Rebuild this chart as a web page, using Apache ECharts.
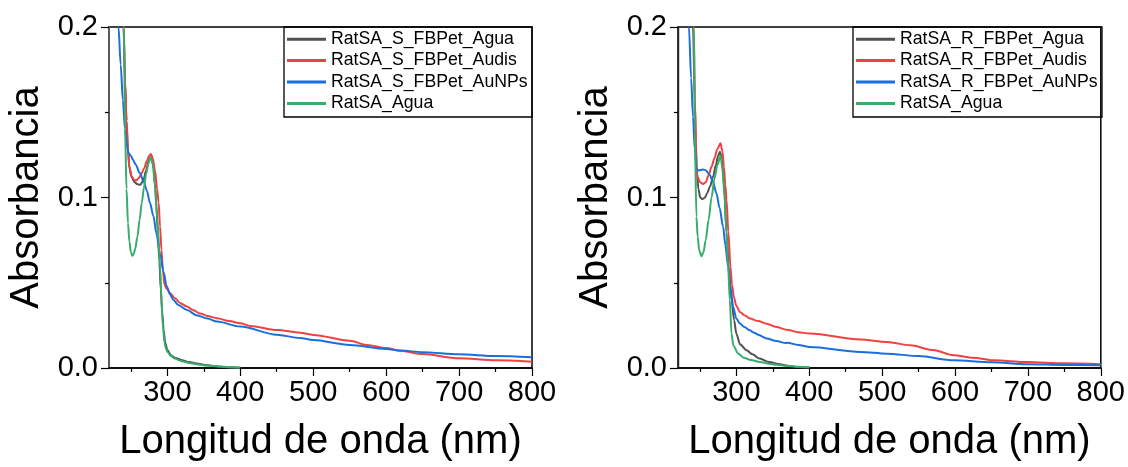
<!DOCTYPE html>
<html>
<head>
<meta charset="utf-8">
<script src="https://cdn.jsdelivr.net/npm/echarts@6/dist/echarts.min.js"></script>
<style>html,body{margin:0;padding:0;background:#fff}#c{width:1128px;height:467px}</style>
</head>
<body>
<div id="c"></div>
<script>
// ---------- DATA ----------
var xTickLabels = [300, 400, 500, 600, 700, 800];
var xMinorTicks = [250, 350, 450, 550, 650, 750];
var seriesNamesS = ['RatSA_S_FBPet_Agua', 'RatSA_S_FBPet_Audis', 'RatSA_S_FBPet_AuNPs', 'RatSA_Agua'];
var seriesNamesR = ['RatSA_R_FBPet_Agua', 'RatSA_R_FBPet_Audis', 'RatSA_R_FBPet_AuNPs', 'RatSA_Agua'];

// Left panel (S)
var S_Agua_nm  = [220, 236, 240, 242, 244, 246, 248, 251, 255, 259, 263, 267, 271, 274, 277, 279, 281, 283, 285, 287, 289, 291, 293, 295, 297, 300, 305, 310, 320, 330, 340, 355, 370, 385, 400];
var S_Agua_abs = [1.0, 0.26, 0.2, 0.168, 0.145, 0.128, 0.117, 0.112, 0.109, 0.1077, 0.1075, 0.110, 0.116, 0.121, 0.1238, 0.122, 0.117, 0.108, 0.095, 0.080, 0.063, 0.046, 0.032, 0.022, 0.015, 0.0105, 0.0075, 0.006, 0.0046, 0.0035, 0.0026, 0.0016, 0.0009, 0.0004, 0.0002];

var S_Audis_nm  = [220, 236, 240, 242, 244, 246, 248, 251, 254, 257, 260, 264, 268, 272, 275, 277.5, 280, 283, 286, 288, 290, 292, 294, 296, 299, 304, 310, 318, 327, 335, 345, 355, 368, 385, 400, 414, 450, 482, 500, 550, 574, 600, 620, 650, 700, 750, 800];
var S_Audis_abs = [1.0, 0.27, 0.2, 0.168, 0.145, 0.128, 0.118, 0.1125, 0.1105, 0.110, 0.111, 0.1135, 0.117, 0.1215, 0.1245, 0.1255, 0.123, 0.116, 0.105, 0.097, 0.083, 0.069, 0.057, 0.049, 0.0465, 0.0439, 0.041, 0.038, 0.036, 0.034, 0.032, 0.0305, 0.0292, 0.0275, 0.0262, 0.0247, 0.0223, 0.0207, 0.0194, 0.016, 0.0135, 0.0117, 0.0101, 0.0082, 0.0057, 0.0045, 0.0037];

var S_AuNPs_nm  = [220, 230, 233, 236, 239, 242, 245, 247, 250, 253, 257, 262, 267, 272, 276, 281, 285, 290, 295, 299, 304, 308, 315, 327, 340, 355, 368, 400, 450, 482, 500, 550, 600, 620, 650, 700, 750, 800];
var S_AuNPs_abs = [1.0, 0.26, 0.2, 0.178, 0.157, 0.14, 0.129, 0.126, 0.1245, 0.122, 0.119, 0.1145, 0.110, 0.104, 0.097, 0.089, 0.079, 0.067, 0.056, 0.048, 0.043, 0.040, 0.037, 0.034, 0.031, 0.029, 0.0272, 0.0243, 0.0195, 0.0176, 0.0164, 0.0135, 0.0112, 0.0102, 0.0093, 0.008, 0.007, 0.0063];

var S_RatAgua_nm  = [220, 238, 240.5, 242, 244, 246, 248, 250, 252, 254, 256, 259, 262, 265, 268, 271, 274, 277, 280, 283, 286, 288, 290, 292, 294, 296, 298, 300, 305, 310, 320, 330, 340, 355, 370, 385, 400];
var S_RatAgua_abs = [1.0, 0.3, 0.2, 0.14, 0.105, 0.085, 0.074, 0.068, 0.0658, 0.067, 0.070, 0.077, 0.087, 0.097, 0.106, 0.114, 0.120, 0.1238, 0.120, 0.107, 0.088, 0.074, 0.0595, 0.040, 0.024, 0.015, 0.0115, 0.0095, 0.007, 0.0055, 0.004, 0.003, 0.0022, 0.0014, 0.0009, 0.0005, 0.0003];

// Right panel (R)
var R_Agua_nm  = [220, 237, 240.6, 243, 244.5, 246, 248, 250.5, 253.5, 257, 260, 264, 268, 272, 275, 277.5, 280, 283, 286.6, 290, 293.4, 297, 300, 305, 314, 322, 332, 345, 360, 370, 385, 400];
var R_Agua_abs = [1.0, 0.28, 0.2, 0.157, 0.132, 0.114, 0.105, 0.100, 0.099, 0.100, 0.1025, 0.1065, 0.112, 0.119, 0.1245, 0.1268, 0.123, 0.108, 0.079, 0.057, 0.040, 0.028, 0.0202, 0.014, 0.0104, 0.008, 0.0055, 0.0035, 0.0022, 0.0013, 0.0006, 0.0003];

var R_Audis_nm  = [220, 237, 241.5, 243, 245.3, 247, 250, 254.4, 258, 262, 266, 270, 274, 278.3, 281, 283, 285, 286.6, 289, 292, 294, 296.6, 300, 304.9, 311, 318.6, 330, 341.6, 355, 369, 385, 401, 470, 506.6, 538.7, 570, 598, 625, 653, 699, 750, 800];
var R_Audis_abs = [1.0, 0.28, 0.2, 0.16, 0.118, 0.112, 0.109, 0.1079, 0.109, 0.113, 0.118, 0.123, 0.1285, 0.1318, 0.127, 0.118, 0.107, 0.0985, 0.080, 0.0593, 0.049, 0.0417, 0.0365, 0.0329, 0.031, 0.029, 0.0275, 0.026, 0.024, 0.0225, 0.021, 0.0202, 0.0167, 0.0153, 0.0133, 0.0105, 0.0075, 0.006, 0.0045, 0.0035, 0.0028, 0.0022];

var R_AuNPs_nm  = [220, 232, 235, 238, 240.6, 243, 245.3, 248, 251, 254.4, 258, 263.6, 268, 272.8, 277, 281.9, 285, 288.8, 292, 295.7, 300, 304.9, 311, 318.6, 323, 325.5, 330, 341.6, 355, 368, 370, 385, 401, 470, 506.6, 550, 598, 650, 699, 750, 800];
var R_AuNPs_abs = [1.0, 0.25, 0.2, 0.17, 0.1474, 0.128, 0.117, 0.1158, 0.1162, 0.1164, 0.116, 0.1132, 0.109, 0.1024, 0.094, 0.0828, 0.072, 0.0593, 0.047, 0.0358, 0.029, 0.0261, 0.024, 0.0221, 0.021, 0.0205, 0.0195, 0.0173, 0.0158, 0.0146, 0.0148, 0.0135, 0.0123, 0.0094, 0.0084, 0.007, 0.0045, 0.0033, 0.0022, 0.0018, 0.0016];

var R_RatAgua_nm  = [220, 238, 242, 243, 245.3, 247, 249, 252.2, 255, 258, 262, 266, 270, 274, 278.3, 281, 284, 286.5, 288.8, 291, 293.4, 296, 302.5, 310, 320, 332.4, 345, 355, 369, 385, 400.7];
var R_RatAgua_abs = [1.0, 0.3, 0.2, 0.138, 0.0887, 0.077, 0.0691, 0.0656, 0.068, 0.075, 0.087, 0.100, 0.111, 0.119, 0.1245, 0.117, 0.100, 0.080, 0.0593, 0.040, 0.0202, 0.013, 0.0085, 0.006, 0.0047, 0.0035, 0.0025, 0.0019, 0.0013, 0.0007, 0.0004];

var colors = ['#515151', '#F14040', '#1A6FDF', '#37AD6B'];

// ---------- BUILD ----------
function zip(a, b) { return a.map(function (v, i) { return [v, b[i]]; }); }
var FONT = 'Liberation Sans, Arial, sans-serif';

var leftData = [zip(S_Agua_nm, S_Agua_abs), zip(S_Audis_nm, S_Audis_abs), zip(S_AuNPs_nm, S_AuNPs_abs), zip(S_RatAgua_nm, S_RatAgua_abs)];
var rightData = [zip(R_Agua_nm, R_Agua_abs), zip(R_Audis_nm, R_Audis_abs), zip(R_AuNPs_nm, R_AuNPs_abs), zip(R_RatAgua_nm, R_RatAgua_abs)];

var grids = [
  { left: 109, top: 27, width: 423, height: 341, show: true, borderColor: '#000', borderWidth: 1.5, backgroundColor: 'transparent' },
  { left: 678, top: 27, width: 424, height: 341, show: true, borderColor: '#000', borderWidth: 1.5, backgroundColor: 'transparent' }
];

function mainX(gi) {
  return {
    type: 'value', gridIndex: gi, min: 220, max: 800,
    name: 'Longitud de onda (nm)', nameLocation: 'middle', nameGap: 54,
    nameTextStyle: { fontSize: 40, fontFamily: FONT, color: '#000' },
    axisLine: { show: true, onZero: false, lineStyle: { color: '#000', width: 1.5 } },
    axisTick: { show: true, length: 8, customValues: xTickLabels, lineStyle: { color: '#000', width: 1.2 } },
    axisLabel: { show: true, customValues: xTickLabels, fontSize: 29, fontFamily: FONT, color: '#000', margin: 10 },
    splitLine: { show: false }
  };
}
function minorX(gi) {
  return {
    type: 'value', gridIndex: gi, min: 220, max: 800, position: 'bottom',
    axisLine: { show: false, onZero: false },
    axisTick: { show: true, length: 4, customValues: xMinorTicks, lineStyle: { color: '#000', width: 1.2 } },
    axisLabel: { show: false },
    splitLine: { show: false }
  };
}
function mainY(gi, lineColor, lineWidth) {
  return {
    type: 'value', gridIndex: gi, min: 0, max: 0.2, interval: 0.1,
    name: 'Absorbancia', nameLocation: 'middle', nameGap: 62,
    nameTextStyle: { fontSize: 40, fontFamily: FONT, color: '#000' },
    axisLine: { show: true, onZero: false, lineStyle: { color: lineColor, width: lineWidth } },
    axisTick: { show: true, length: 8, lineStyle: { color: '#000', width: 1.2 } },
    minorTick: { show: true, splitNumber: 2, length: 4, lineStyle: { color: '#000', width: 1.2 } },
    axisLabel: { fontSize: 29, fontFamily: FONT, color: '#000', margin: 11, formatter: function (v) { return v.toFixed(1); } },
    splitLine: { show: false }, minorSplitLine: { show: false }
  };
}

var series = [];
function addSeries(names, datas, xi, yi) {
  names.forEach(function (n, i) {
    series.push({
      name: n, type: 'line', xAxisIndex: xi, yAxisIndex: yi, data: datas[i],
      symbol: 'none', smooth: 0.3, smoothMonotone: 'x', clip: true,
      lineStyle: { color: colors[i], width: 2 }, itemStyle: { color: colors[i] },
      animation: false
    });
  });
}
addSeries(seriesNamesS, leftData, 0, 0);
addSeries(seriesNamesR, rightData, 2, 1);

function legend(left, names) {
  return {
    orient: 'vertical', left: left, top: 28.5, padding: 0, itemGap: 0,
    itemWidth: 39, itemHeight: 3, icon: 'rect',
    data: names.map(function (n, i) { return { name: n, itemStyle: { color: colors[i] } }; }),
    textStyle: { fontSize: 17.7, fontFamily: FONT, color: '#000', lineHeight: 21.4 },
    selectedMode: false
  };
}

var option = {
  animation: false,
  backgroundColor: '#fff',
  color: colors,
  grid: grids,
  xAxis: [mainX(0), minorX(0), mainX(1), minorX(1)],
  yAxis: [mainY(0, '#5a5a5a', 2), mainY(1, '#222', 1.4)],
  legend: [legend(287, seriesNamesS), legend(856, seriesNamesR)],
  graphic: [
    { type: 'rect', shape: { x: 284, y: 27, width: 248, height: 90 }, style: { fill: 'none', stroke: '#000', lineWidth: 1.3 }, z: 100 },
    { type: 'rect', shape: { x: 853, y: 27, width: 249, height: 90 }, style: { fill: 'none', stroke: '#000', lineWidth: 1.3 }, z: 100 }
  ],
  series: series
};

var chart = echarts.init(document.getElementById('c'), null, { renderer: 'canvas' });
chart.setOption(option);
</script>
</body>
</html>
